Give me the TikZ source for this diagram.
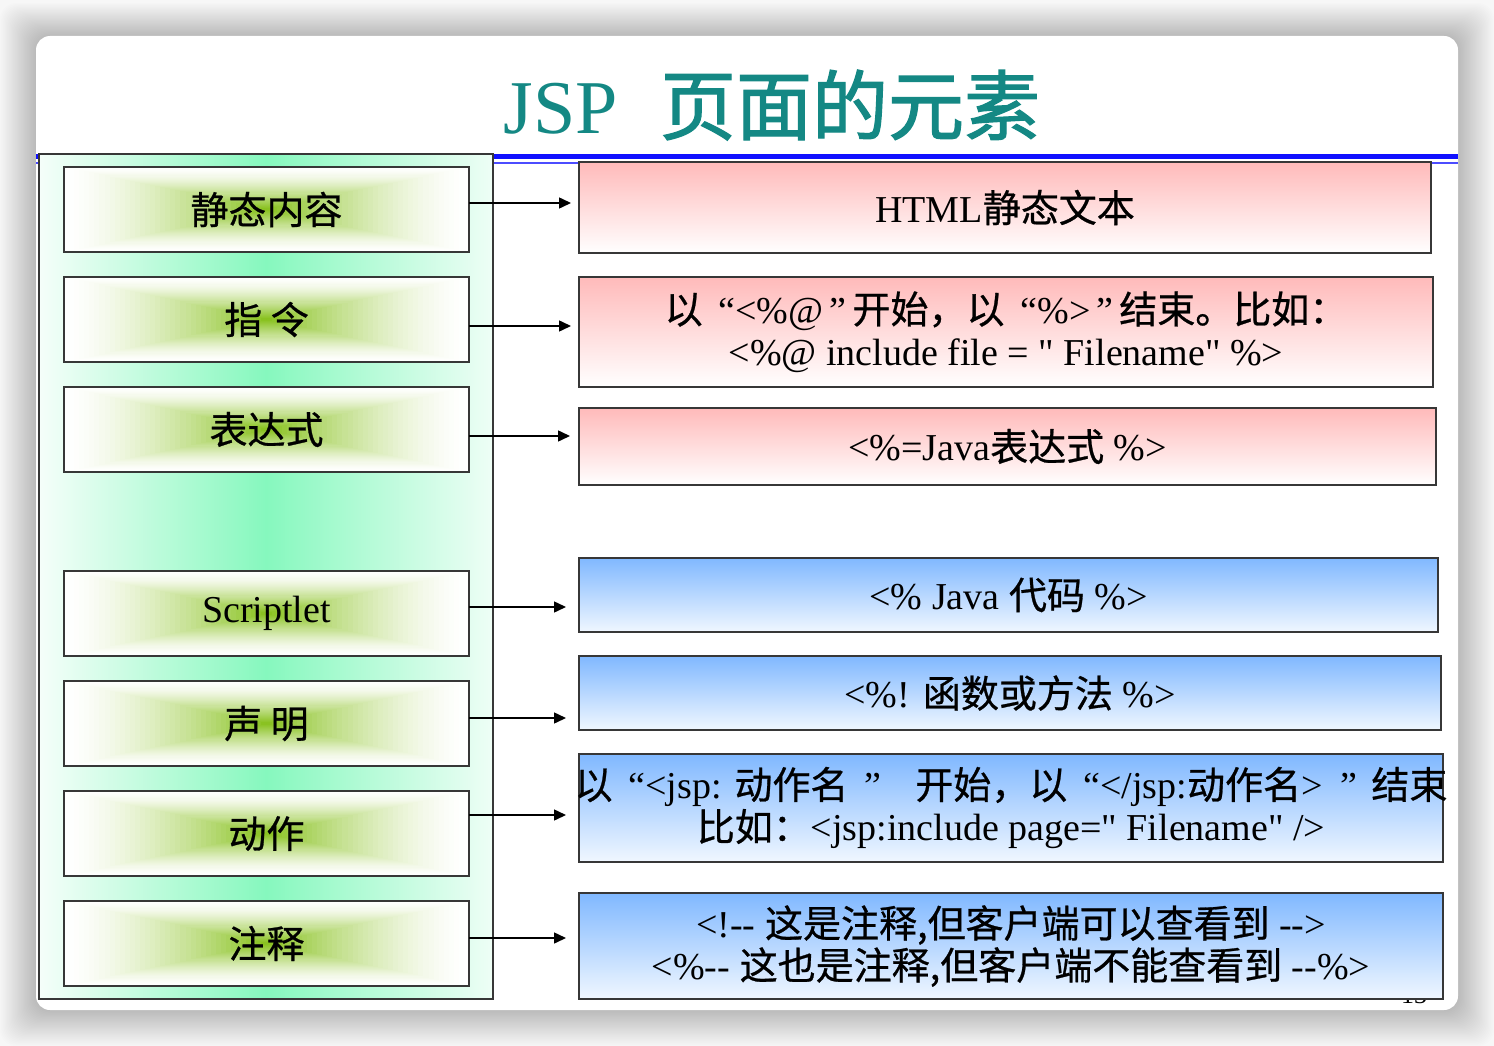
\documentclass[tikz,border=0pt]{standalone}
\usepackage{fontspec}
\setmainfont{Liberation Serif}[Ligatures=TeXOff]
\newfontfamily\cjk[FakeBold=0.7]{Noto Sans CJK SC}
\newfontfamily\cjktitle[FakeBold=1.6]{Noto Sans CJK SC}
\usetikzlibrary{arrows.meta}

\definecolor{titleteal}{RGB}{20,136,132}
\definecolor{leaf}{RGB}{134,192,26}
\definecolor{mint}{RGB}{134,248,190}
\definecolor{rosetop}{RGB}{255,186,186}
\definecolor{skytop}{RGB}{128,184,255}
\definecolor{skybot}{RGB}{240,247,255}
\definecolor{edge}{RGB}{55,55,55}
\definecolor{rulecol}{RGB}{16,16,255}
\definecolor{pagebg}{RGB}{247,247,247}

\tikzset{
  labelbox/.style={draw=edge, line width=1.5pt, inner sep=0pt, outer sep=0pt,
    font=\fontsize{38}{42}\selectfont},
  rosebox/.style={draw=edge, line width=1.5pt, inner sep=0pt, outer sep=0pt,
    top color=rosetop, bottom color=white, align=center,
    font=\fontsize{38}{42}\selectfont},
  skybox/.style={draw=edge, line width=1.5pt, inner sep=0pt, outer sep=0pt,
    top color=skytop, bottom color=skybot, align=center,
    font=\fontsize{38}{42}\selectfont},
  conn/.style={draw=black, line width=1.5pt, -{Triangle[length=12pt,width=11pt]}},
}

% box with a rectangular centre-out green gradient, then a framed node on top
\newcommand\leafbox[6]{%
  \pgfmathsetmacro\lbcx{(#2+#4)/2}%
  \pgfmathsetmacro\lbcy{(#3+#5)/2}%
  \pgfmathsetmacro\lbhw{(#4-#2)/2}%
  \pgfmathsetmacro\lbhh{(#5-#3)/2}%
  \foreach \k in {0,...,40}{%
    \pgfmathsetmacro\lbt{1-\k/40}%
    \pgfmathsetmacro\lbp{100*(\k/40)*sqrt(\k/40)}%
    \fill[leaf!\lbp!white] (\lbcx-\lbt*\lbhw,\lbcy-\lbt*\lbhh) rectangle (\lbcx+\lbt*\lbhw,\lbcy+\lbt*\lbhh);
  }%
  \node[labelbox, minimum width=2*\lbhw pt, minimum height=2*\lbhh pt] (#1) at (\lbcx,\lbcy) {#6};
}

% framed text box given by its corners
\newcommand\infobox[7]{%
  \pgfmathsetmacro\ibcx{(#2+#4)/2}%
  \pgfmathsetmacro\ibcy{(#3+#5)/2}%
  \pgfmathsetmacro\ibw{#4-#2}%
  \pgfmathsetmacro\ibh{#5-#3}%
  \node[#6, minimum width=\ibw pt, minimum height=\ibh pt] (#1) at (\ibcx,\ibcy) {#7};
}

\begin{document}
\begin{tikzpicture}[x=1pt,y=-1pt]
  \useasboundingbox (0,0) rectangle (1494,1046);
  \fill[pagebg] (0,0) rectangle (1494,1046);

  % soft window shadow
  \foreach \i in {1,...,30}{%
    \fill[black, opacity=0.0075, rounded corners=16pt]
      (36-\i*1.2,36-\i*1.1) rectangle (1458+\i*1.2,1010+\i*1.2);
  }
  % slide
  \fill[white, rounded corners=14pt] (36,36) rectangle (1458,1010);

  % title rules
  \draw[rulecol, line width=5pt] (36,157) -- (1458,157);
  \draw[rulecol!75!white, line width=2pt] (36,163) -- (1458,163);

  % title
  \node[anchor=base, text=titleteal, inner sep=0pt] (title) at (772,134)
    {\fontsize{76}{80}\selectfont JSP\hspace{42pt}{\cjktitle 页面的元素}};

  % left panel
  \shade[left color=mint!8!white, right color=mint!14!white, middle color=mint]
    (39,154) rectangle (493,999);
  \node[draw=edge, line width=1.5pt, inner sep=0pt, outer sep=0pt,
        minimum width=454pt, minimum height=845pt] (panel) at (266,576.5) {};

  \leafbox{l1}{64}{167}{469}{252}{\cjk 静态内容}
  \leafbox{l2}{64}{277}{469}{362}{\cjk 指 令}
  \leafbox{l3}{64}{387}{469}{472}{\cjk 表达式}
  \leafbox{l4}{64}{571}{469}{656}{Scriptlet}
  \leafbox{l5}{64}{681}{469}{766}{\cjk 声 明}
  \leafbox{l6}{64}{791}{469}{876}{\cjk 动作}
  \leafbox{l7}{64}{901}{469}{986}{\cjk 注释}

  % slide number, mostly hidden behind the last box
  \node[anchor=base, inner sep=0pt, font=\fontsize{26}{26}\selectfont] (pgno) at (1414,1003) {13};

  % right column
  \infobox{r1}{579}{162}{1431}{253}{rosebox}{HTML{\cjk 静态文本}}
  \infobox{r2}{579}{277}{1433}{387}{rosebox}%
    {{\cjk 以}\hspace{16pt}“<\%@\hspace{6pt}”\hspace{6pt}{\cjk 开始，以}\hspace{16pt}“\%>\hspace{6pt}”\hspace{6pt}{\cjk 结束。比如：}\\
     <\%@ include file = " Filename" \%>}
  \infobox{r3}{579}{408}{1436}{485}{rosebox}{<\%=Java{\cjk 表达式} \%>}
  \infobox{r4}{579}{558}{1438}{632}{skybox}{<\% Java {\cjk 代码} \%>}
  \infobox{r5}{579}{656}{1441}{730}{skybox}{<\%! {\cjk 函数或方法} \%>}
  % the first line runs past both sides of its frame
  \infobox{r6}{579}{754}{1443}{862}{skybox}%
    {\makebox[0pt]{{\cjk 以}\hspace{16pt}“<jsp: {\cjk 动作名}\hspace{16pt}”\hspace{34pt}{\cjk 开始，以}\hspace{16pt}“</jsp:{\cjk 动作名}>\hspace{18pt}”\hspace{14pt}{\cjk 结束}}\\
     {\cjk 比如：}<jsp:include page=" Filename" />}
  \infobox{r7}{579}{893}{1443}{999}{skybox}%
    {<!-- {\cjk 这是注释}{\cjk ,}{\cjk 但客户端可以查看到} -->\\
     <\%-- {\cjk 这也是注释}{\cjk ,}{\cjk 但客户端不能查看到} --\%>}

  % connectors
  \coordinate (t1) at (571,203);
  \coordinate (t2) at (571,326);
  \coordinate (t3) at (570,436);
  \coordinate (t4) at (566,607);
  \coordinate (t5) at (566,718);
  \coordinate (t6) at (566,815);
  \coordinate (t7) at (566,938);
  \draw[conn] (l1.east |- t1) -- (t1);
  \draw[conn] (l2.east |- t2) -- (t2);
  \draw[conn] (l3.east |- t3) -- (t3);
  \draw[conn] (l4.east |- t4) -- (t4);
  \draw[conn] (l5.east |- t5) -- (t5);
  \draw[conn] (l6.east |- t6) -- (t6);
  \draw[conn] (l7.east |- t7) -- (t7);
\end{tikzpicture}
\end{document}
